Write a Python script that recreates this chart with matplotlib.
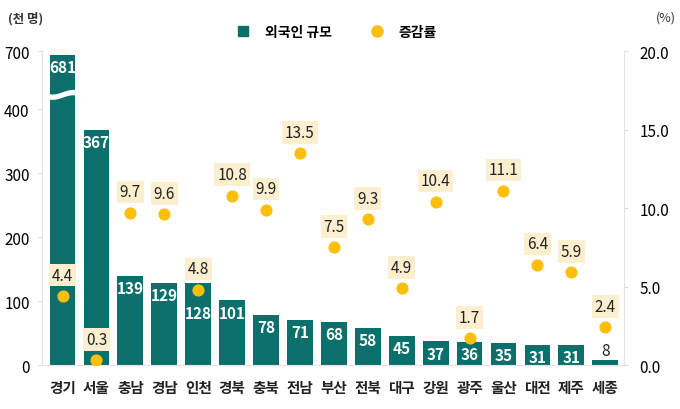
import numpy as np
import matplotlib.pyplot as plt
from matplotlib.lines import Line2D

plt.rcParams['font.family'] = ['Noto Sans CJK KR', 'DejaVu Sans']

# ── 데이터 ──────────────────────────────────────────
regions = ["경기", "서울", "충남", "경남", "인천", "경북", "충북", "전남", "부산",
           "전북", "대구", "강원", "광주", "울산", "대전", "제주", "세종"]
foreigners = [681, 367, 139, 129, 128, 101, 78, 71, 68, 58, 45, 37, 36, 35, 31, 31, 8]
growth = [4.4, 0.3, 9.7, 9.6, 4.8, 10.8, 9.9, 13.5, 7.5, 9.3, 4.9, 10.4, 1.7, 11.1, 6.4, 5.9, 2.4]
left_ticks = [0, 100, 200, 300, 400, 700]
right_ticks = [0, 5, 10, 15, 20]

TEAL = "#0B706B"
YELLOW = "#FBBF0A"
BOX = "#FCEFCF"

# 400 이상 구간을 압축 (축 생략)
BRK = 400
SQZ = 0.302

def fwd(v):
    v = np.asarray(v, dtype=float)
    return np.where(v <= BRK, v, BRK + (v - BRK) * SQZ)

def inv(t):
    t = np.asarray(t, dtype=float)
    return np.where(t <= BRK, t, BRK + (t - BRK) / SQZ)

fig = plt.figure(figsize=(6.8, 4.1), dpi=100)
ax = fig.add_axes([0.062, 0.107, 0.856, 0.766])
ax.set_yscale('function', functions=(fwd, inv))
x = np.arange(len(regions))

ax.bar(x, foreigners, width=0.76, color=TEAL, zorder=2)
ax.set_ylim(0, 700)
ax.set_xlim(-0.6, len(regions) - 0.44)

# 경기 막대 생략 표시 (물결)
xs = np.linspace(x[0] - 0.45, x[0] + 0.45, 50)
wave = 12 * np.sin((xs - x[0]) * np.pi * 1.6)
ax.fill_between(xs, 462 + wave, 490 + wave, color="white", zorder=3, lw=0)

top_t = float(fwd(700))
for xi, v, g in zip(x, foreigners, growth):
    # 점이 막대 윗부분에 겹치면 숫자를 아래로 내림
    gap = float(fwd(v)) - g / 20 * top_t
    dy = -16 if 0 < gap < 25 else -3
    if v > 20:
        ax.annotate(f"{v}", (xi, v), xytext=(0, dy), textcoords="offset points",
                    ha="center", va="top", color="white", fontsize=11,
                    fontweight="bold", zorder=4)
    else:
        ax.annotate(f"{v}", (xi, v), xytext=(0, 1), textcoords="offset points",
                    ha="center", va="bottom", color="#222222", fontsize=11,
                    zorder=4)

ax.set_yticks(left_ticks)
ax.set_yticklabels([str(t) for t in left_ticks])
ax.set_xticks(x)
ax.set_xticklabels(regions, fontsize=10.5, fontweight="bold", color="#222222")
ax.tick_params(axis="x", length=0, pad=10)
ax.tick_params(axis="y", length=3, color="#DDDDDD", labelsize=11, pad=6)
for s in ["top", "right"]:
    ax.spines[s].set_visible(False)
ax.spines["left"].set_color("#E4E4E4")
ax.spines["bottom"].set_color("#E4E4E4")

# 증감률 (오른쪽 축)
ax2 = ax.twinx()
ax2.scatter(x, growth, s=60, color=YELLOW, zorder=5)
for xi, g in zip(x, growth):
    ax2.annotate(f"{g:.1f}", (xi, g), xytext=(0, 15), textcoords="offset points",
                 ha="center", va="center", fontsize=11, color="#222222",
                 bbox=dict(boxstyle="square,pad=0.18", fc=BOX, ec="none"), zorder=6)
ax2.set_ylim(0, 20)
ax2.set_yticks(right_ticks)
ax2.set_yticklabels([f"{t:.1f}" for t in right_ticks])
ax2.tick_params(axis="y", length=3, color="#DDDDDD", labelsize=11, pad=8)
for s in ["top", "left", "bottom"]:
    ax2.spines[s].set_visible(False)
ax2.spines["right"].set_color("#E4E4E4")

# 단위 / 범례
fig.text(0.012, 0.955, "(천 명)", fontsize=9, fontweight="bold", color="#333333", va="center")
fig.text(0.965, 0.955, "(%)", fontsize=9, color="#333333", va="center")
handles = [Line2D([], [], marker="s", color=TEAL, ls="none", markersize=7),
           Line2D([], [], marker="o", color=YELLOW, ls="none", markersize=8)]
fig.legend(handles, ["외국인 규모", "증감률"], loc="center", bbox_to_anchor=(0.49, 0.92),
           ncol=2, frameon=False, columnspacing=2.2, handletextpad=0.6,
           prop={"weight": "bold", "size": 10})

fig.savefig("out.png", dpi=100)
